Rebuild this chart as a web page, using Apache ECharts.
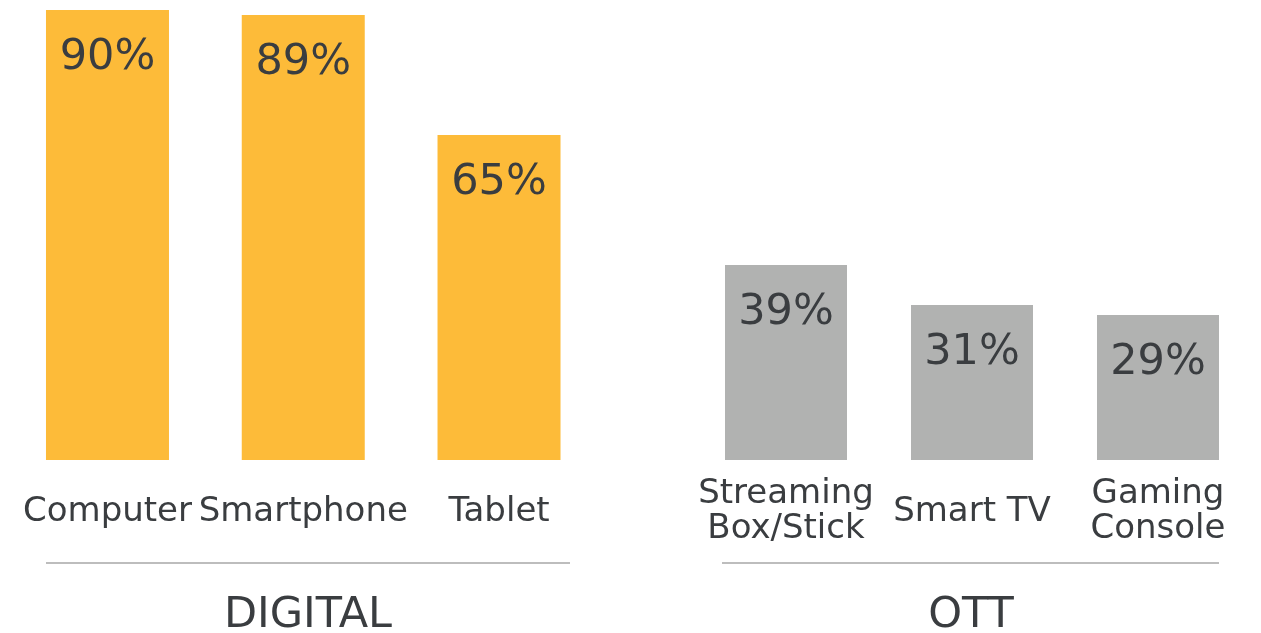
<!DOCTYPE html>
<html>
<head>
<meta charset="utf-8">
<script src="https://cdn.jsdelivr.net/npm/echarts@6/dist/echarts.min.js"></script>
<style>
html,body{margin:0;padding:0;background:#fff;}
#c{width:1261px;height:633px;}
</style>
</head>
<body>
<div id="c"></div>
<script>
const digitalCategories = ['Computer', 'Smartphone', 'Tablet'];
const digitalValues = [90, 89, 65];
const ottCategories = ['Streaming\nBox/Stick', 'Smart TV', 'Gaming\nConsole'];
const ottValues = [39, 31, 29];
const groupLabels = ['DIGITAL', 'OTT'];

const FONT = '"DejaVu Sans", sans-serif';
const TEXT = '#3a3d40';

const chart = echarts.init(document.getElementById('c'), null, {renderer: 'canvas'});

function xAxisFor(idx, cats) {
  return {
    type: 'category', gridIndex: idx, data: cats,
    axisLine: {show: false}, axisTick: {show: false},
    axisLabel: {
      interval: 0, color: TEXT, fontFamily: FONT, fontSize: 34,
      lineHeight: 35, margin: 52, verticalAlign: 'middle'
    }
  };
}
function yAxisFor(idx) {
  return {
    type: 'value', gridIndex: idx, min: 0, max: 90,
    show: false, splitLine: {show: false}
  };
}
function barFor(idx, vals, color, width) {
  return {
    type: 'bar', xAxisIndex: idx, yAxisIndex: idx, data: vals,
    barWidth: width, itemStyle: {color: color},
    label: {
      show: true, position: 'insideTop', distance: 26,
      formatter: '{c}%', color: TEXT, fontFamily: FONT, fontSize: 43
    },
    silent: true
  };
}

chart.setOption({
  animation: false,
  grid: [
    {left: 9.6, width: 587.3, top: 10, bottom: 173},
    {left: 693, width: 558, top: 10, bottom: 173}
  ],
  xAxis: [xAxisFor(0, digitalCategories), xAxisFor(1, ottCategories)],
  yAxis: [yAxisFor(0), yAxisFor(1)],
  series: [
    barFor(0, digitalValues, '#fdbb39', 123),
    barFor(1, ottValues, '#b1b2b1', 122)
  ],
  graphic: [
    {type: 'line', shape: {x1: 46, y1: 563, x2: 570, y2: 563}, style: {stroke: '#bdbdbd', lineWidth: 2}},
    {type: 'line', shape: {x1: 722, y1: 563, x2: 1219, y2: 563}, style: {stroke: '#bdbdbd', lineWidth: 2}},
    {type: 'text', x: 308, y: 616, style: {text: groupLabels[0], fill: TEXT, font: '43px ' + FONT, textAlign: 'center', textVerticalAlign: 'middle'}},
    {type: 'text', x: 971, y: 616, style: {text: groupLabels[1], fill: TEXT, font: '43px ' + FONT, textAlign: 'center', textVerticalAlign: 'middle'}}
  ]
});
</script>
</body>
</html>
